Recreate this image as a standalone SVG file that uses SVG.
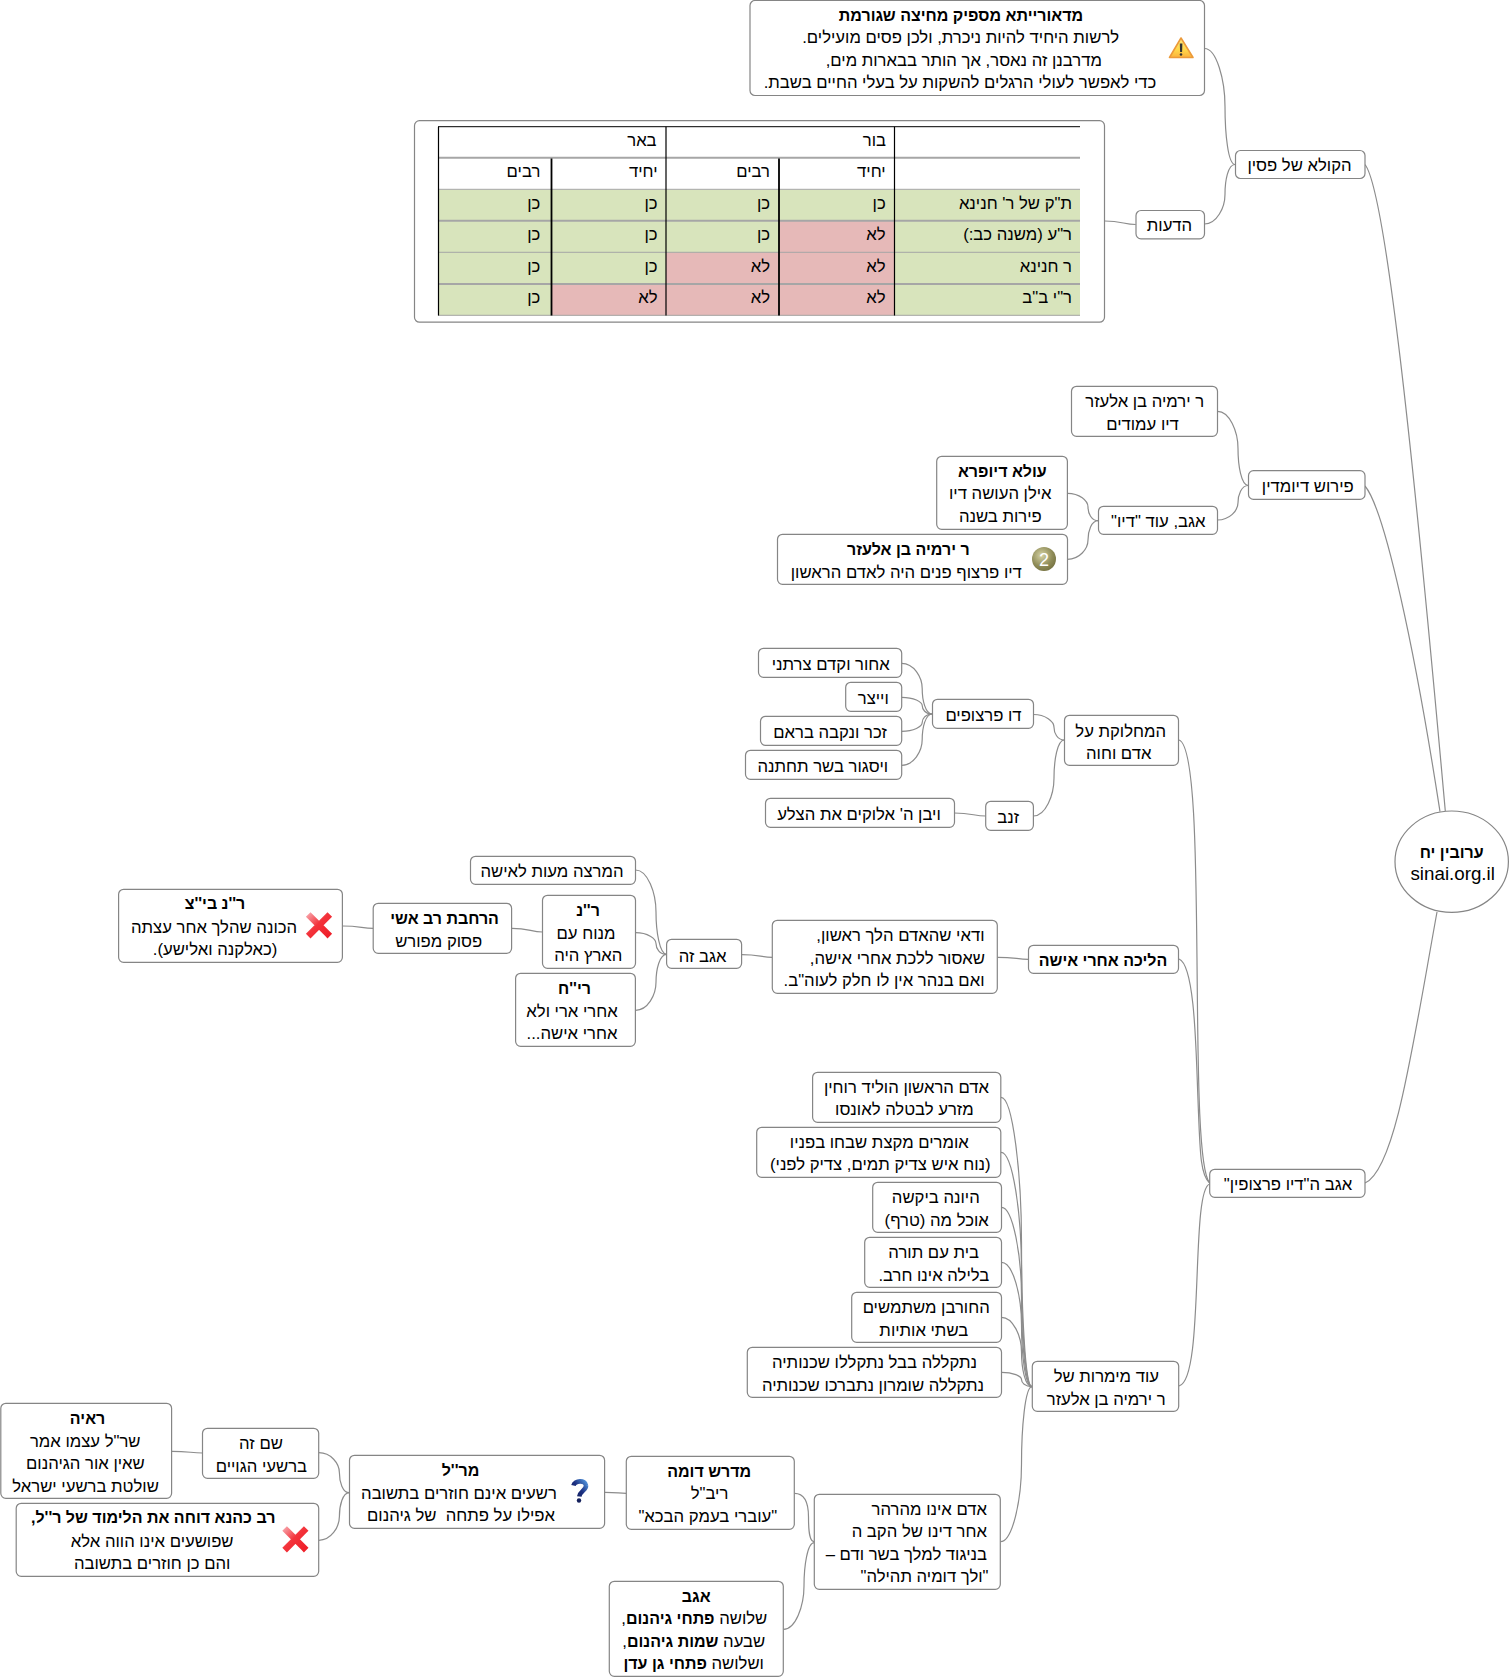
<svg xmlns="http://www.w3.org/2000/svg" width="1509" height="1677" viewBox="0 0 1509 1677">
<style>
text{font-family:"Liberation Sans",Arial,sans-serif;font-size:16.7px;fill:#000;direction:rtl;text-anchor:middle}
.b,tspan.b{font-weight:bold;font-size:16px}
.r{text-anchor:start}
.n{fill:#fff;stroke:#858585;stroke-width:1.2}
#connectors path{fill:none;stroke:#8c8c8c;stroke-width:1.2}
.g{fill:#D8E4BC}.p{fill:#E6B9B8}
.hl{stroke:#a6a6a6;fill:none}
.vl{stroke:#000;fill:none}
.x{stroke:url(#xg);stroke-width:6.5;stroke-linecap:square;fill:none}
</style>
<defs>
<linearGradient id="wg" x1="0" y1="0" x2="0" y2="1"><stop offset="0" stop-color="#ffe680"/><stop offset="0.6" stop-color="#ffd84a"/><stop offset="1" stop-color="#fbb13c"/></linearGradient>
<linearGradient id="xg" gradientUnits="userSpaceOnUse" x1="-12" y1="-12" x2="12" y2="12"><stop offset="0" stop-color="#f8a8ae"/><stop offset="0.45" stop-color="#f3333b"/><stop offset="1" stop-color="#ee1c26"/></linearGradient>
<radialGradient id="mg" cx="0.4" cy="0.35" r="0.75"><stop offset="0" stop-color="#d6d3a4"/><stop offset="0.6" stop-color="#8f8c58"/><stop offset="1" stop-color="#6f6c3c"/></radialGradient>
<linearGradient id="qg" x1="1" y1="0" x2="0" y2="1"><stop offset="0" stop-color="#4f8fd8"/><stop offset="0.5" stop-color="#1b2f80"/><stop offset="1" stop-color="#14205c"/></linearGradient>
<g id="xicon"><path class="x" d="M-8.5 -8.5L8.5 8.5M8.5 -8.5L-8.5 8.5"/></g>
</defs>
<rect width="1509" height="1677" fill="#fff"/>
<g id="connectors">
<path d="M1204.5 48.5C1216.5 48.5 1225 79.8 1225 106.5S1228 164.5 1235 164.5"/>
<path d="M1204.5 224C1216.5 224 1225 208 1225 194.2S1228 164.5 1235 164.5"/>
<path d="M1104.8 221C1122 221 1124 224.5 1135.7 224.5"/>
<path d="M1365 164.5C1385 190 1412 440 1445.3 811"/>
<path d="M1217.5 411.3C1229.5 411.3 1238 431.3 1238 448.4S1241.3 485.5 1248.3 485.5"/>
<path d="M1217.5 520C1229.5 520 1238 510.7 1238 502.8S1241.3 485.5 1248.3 485.5"/>
<path d="M1067.5 493.3C1079.5 493.3 1088 500.7 1088 507S1091.3 520.7 1098.3 520.7"/>
<path d="M1067.5 559.3C1079.5 559.3 1088 548.9 1088 540S1091.3 520.7 1098.3 520.7"/>
<path d="M1365 486C1385 510 1415 650 1440 811.7"/>
<path d="M1365 1183C1395 1170 1412 1050 1437 912"/>
<path d="M1179 740C1195 745 1196 860 1197 960S1198 1170 1209.7 1183"/>
<path d="M1179 959C1195 965 1196 1050 1198 1100S1200 1175 1209.7 1183"/>
<path d="M1179 1386C1205 1380 1190 1190 1209.7 1184"/>
<path d="M1033.5 714.5C1045.5 714.5 1054 721.4 1054 727.2S1057.3 740 1064.3 740"/>
<path d="M1033.5 816C1045.5 816 1054 795.5 1054 778S1057.3 740 1064.3 740"/>
<path d="M901.7 663.3C913.7 663.3 922.2 677 922.2 688.6S925.3 714 932.3 714"/>
<path d="M901.7 697.3C913.7 697.3 922.2 701.8 922.2 705.6S925.3 714 932.3 714"/>
<path d="M901.7 731.3C913.7 731.3 922.2 726.6 922.2 722.6S925.3 714 932.3 714"/>
<path d="M901.7 765.3C913.7 765.3 922.2 751.4 922.2 739.6S925.3 714 932.3 714"/>
<path d="M954.3 813C972 813 974 816 985.7 816"/>
<path d="M997.5 957.3C1015 957.3 1017 959.3 1028.5 959.3"/>
<path d="M741.8 954.7C759 954.7 761 957.3 772.3 957.3"/>
<path d="M635.6 870C647.6 870 656 892.8 656 912.1S659.6 954.3 666.6 954.3"/>
<path d="M635.6 932.7C647.6 932.7 656 938.5 656 943.5S659.6 954.3 666.6 954.3"/>
<path d="M635.6 1010.3C647.6 1010.3 656 995.2 656 982.3S659.6 954.3 666.6 954.3"/>
<path d="M511.8 928.3C529 928.3 531 932 542.5 932"/>
<path d="M342.6 926C360 926 362 928.3 373.2 928.3"/>
<path d="M1001 1097.3C1013 1097.3 1021.5 1175.4 1021.5 1242S1025 1386.7 1032 1386.7"/>
<path d="M1001 1152.3C1013 1152.3 1021.5 1215.6 1021.5 1269.5S1025 1386.7 1032 1386.7"/>
<path d="M1001.5 1207.3C1013 1207.3 1021.5 1255.7 1021.5 1297S1025 1386.7 1032 1386.7"/>
<path d="M1001.5 1262.3C1013 1262.3 1021.5 1295.9 1021.5 1324.5S1025 1386.7 1032 1386.7"/>
<path d="M1001.5 1317.3C1013 1317.3 1021.5 1336 1021.5 1352S1025 1386.7 1032 1386.7"/>
<path d="M1001.5 1372.3C1013 1372.3 1021.5 1376.2 1021.5 1379.5S1025 1386.7 1032 1386.7"/>
<path d="M1000.5 1541.7C1012.5 1541.7 1021.5 1499.8 1021.5 1464.2S1025 1386.7 1032 1386.7"/>
<path d="M794.5 1493.3C803 1493.3 808.5 1500 808.5 1517S810 1541.7 814.3 1541.7"/>
<path d="M783.5 1629.3C795.5 1629.3 804 1606 804 1586S807.3 1542.7 814.3 1542.7"/>
<path d="M604.8 1492.3C618 1492.3 618 1493.3 626.3 1493.3"/>
<path d="M318.9 1452.7C330.9 1452.7 339.4 1463.5 339.4 1472.7S342.5 1492.7 349.5 1492.7"/>
<path d="M318.9 1540.3C330.9 1540.3 339.4 1527.4 339.4 1516.5S342.5 1492.7 349.5 1492.7"/>
<path d="M171.8 1451.3C189 1451.3 191 1453 202.5 1453"/>
</g>
<g id="root"><ellipse class="n" cx="1451.7" cy="861.7" rx="56.7" ry="50.7"/>
<text class="b" x="1451.7" y="857.7">ערובין יח</text>
<text x="1452.7" y="880" style="font-size:18.75px;direction:ltr">sinai.org.il</text></g>
<g id="hakula"><rect class="n" x="1235.5" y="150.5" width="129.5" height="28" rx="5"/><text x="1299.5" y="171">הקולא של פסין</text></g>
<g id="warning"><rect class="n" x="750" y="0.5" width="454.5" height="95" rx="5"/>
<text class="b" x="961" y="20.6">מדאורייתא מספיק מחיצה שגורמת</text>
<text x="960.7" y="43.2">לרשות היחיד להיות ניכרת, ולכן פסים מועילים.</text>
<text x="963.8" y="65.8">מדרבנן זה נאסר, אך הותר בבארות מים,</text>
<text x="960" y="88.4">כדי לאפשר לעולי הרגלים להשקות על בעלי החיים בשבת.</text>
<path d="M1181 38L1193 57.5H1169.5Z" fill="url(#wg)" stroke="#ec9a3a" stroke-width="1.6" stroke-linejoin="round"/>
<path d="M1179.8 43.5h2.6l-.3 8.5h-2Z" fill="#333"/><circle cx="1181" cy="54.5" r="1.3" fill="#333"/></g>
<g id="hadeot"><rect class="n" x="1136" y="210.5" width="68.5" height="28.3" rx="5"/><text x="1169.5" y="231">הדעות</text></g>
<g id="table"><rect class="n" x="414.5" y="120.7" width="690" height="201.5" rx="5"/>
<rect class="g" x="438" y="189.5" width="642" height="126"/>
<rect class="p" x="779" y="221" width="115" height="94.5"/>
<rect class="p" x="666" y="252.5" width="113" height="63"/>
<rect class="p" x="551.5" y="284" width="114.5" height="31.5"/>
<path class="vl" d="M438 126.7H1080" stroke-width="1"/>
<path class="hl" d="M438 157.7H1080M438 220.7H1080M438 284H1080" stroke-width="2"/>
<path class="hl" d="M438 189.3H1080M438 252.3H1080M438 315.3H1080" stroke-width="1"/>
<path class="vl" d="M438.5 126.7V315.5M666 126.7V315.5M894.5 126.7V315.5" stroke-width="1.2"/>
<path class="vl" d="M551.5 158.5V315.5M779 158.5V315.5" stroke-width="1.8"/>
<text class="r" x="886" y="146">בור</text><text class="r" x="656.6" y="146">באר</text>
<text class="r" x="885.7" y="177">יחיד</text><text class="r" x="770" y="177">רבים</text><text class="r" x="657.6" y="177">יחיד</text><text class="r" x="540.3" y="177">רבים</text>
<text class="r" x="1072" y="208.7">ת"ק של ר' חנינא</text><text class="r" x="885.7" y="208.7">כן</text><text class="r" x="770" y="208.7">כן</text><text class="r" x="657.6" y="208.7">כן</text><text class="r" x="540.3" y="208.7">כן</text>
<text class="r" x="1072" y="239.5">ר"ע (משנה כב:)</text><text class="r" x="885.7" y="239.5">לא</text><text class="r" x="770" y="239.5">כן</text><text class="r" x="657.6" y="239.5">כן</text><text class="r" x="540.3" y="239.5">כן</text>
<text class="r" x="1072" y="271.7">ר חנינא</text><text class="r" x="885.7" y="271.7">לא</text><text class="r" x="770" y="271.7">לא</text><text class="r" x="657.6" y="271.7">כן</text><text class="r" x="540.3" y="271.7">כן</text>
<text class="r" x="1072" y="302.7">ר"י ב"ב</text><text class="r" x="885.7" y="302.7">לא</text><text class="r" x="770" y="302.7">לא</text><text class="r" x="657.6" y="302.7">לא</text><text class="r" x="540.3" y="302.7">כן</text></g>
<g id="perush"><rect class="n" x="1248.5" y="470.7" width="116.5" height="28.7" rx="5"/><text x="1307.8" y="491.8">פירוש דיומדין</text></g>
<g id="yirmeya"><rect class="n" x="1071.5" y="386.3" width="146" height="50" rx="5"/><text x="1144.7" y="407.3">ר ירמיה בן אלעזר</text><text x="1142.5" y="430">דיו עמודים</text></g>
<g id="agavod"><rect class="n" x="1098.5" y="506.3" width="119" height="28" rx="5"/><text x="1158.3" y="526.7">אגב, עוד "דיו"</text></g>
<g id="ula"><rect class="n" x="936.7" y="456.3" width="130.7" height="73" rx="5"/><text class="b" x="1002.3" y="476.7">עולא דיופרא</text><text x="1000.3" y="499.3">אילן העושה דיו</text><text x="1000.3" y="521.7">פירות בשנה</text></g>
<g id="yirmeya2"><rect class="n" x="777.5" y="534.3" width="290" height="50" rx="5"/><text class="b" x="908.3" y="555.3">ר ירמיה בן אלעזר</text><text x="906.3" y="577.7">דיו פרצוף פנים היה לאדם הראשון</text>
<circle cx="1044" cy="559" r="12" fill="url(#mg)"/><text x="1044" y="565.5" style="font-size:18px;fill:#fff;direction:ltr">2</text></g>
<g id="machloket"><rect class="n" x="1064.5" y="715.3" width="114" height="50" rx="5"/><text x="1120.7" y="736.7">המחלוקת על</text><text x="1118.7" y="759.3">אדם וחוה</text></g>
<g id="du"><rect class="n" x="932.5" y="699.3" width="101" height="29" rx="5"/><text x="983.5" y="720.7">דו פרצופים</text></g>
<g id="achor"><rect class="n" x="758.5" y="648.3" width="143.2" height="29" rx="5"/><text x="830.8" y="670">אחור וקדם צרתני</text></g>
<g id="vayitzer"><rect class="n" x="845.7" y="682.3" width="56" height="29" rx="5"/><text x="873.3" y="704">וייצר</text></g>
<g id="zachar"><rect class="n" x="760.5" y="716.3" width="141.2" height="29" rx="5"/><text x="830" y="738">זכר ונקבה בראם</text></g>
<g id="vayisgor"><rect class="n" x="745.5" y="750.3" width="156.2" height="29" rx="5"/><text x="822.8" y="772">ויסגור בשר תחתנה</text></g>
<g id="zanav"><rect class="n" x="985.7" y="801.3" width="47.7" height="29" rx="5"/><text x="1008.3" y="822.7">זנב</text></g>
<g id="vayiven"><rect class="n" x="765.5" y="798.3" width="189" height="29" rx="5"/><text x="859" y="820">ויבן ה' אלוקים את הצלע</text></g>
<g id="hadyu"><rect class="n" x="1209.7" y="1169.3" width="155.3" height="28" rx="5"/><text x="1288" y="1190">אגב ה"דיו פרצופין"</text></g>
<g id="halicha"><rect class="n" x="1028.5" y="945.3" width="150" height="28" rx="5"/><text class="b" x="1103" y="966">הליכה אחרי אישה</text></g>
<g id="vaday"><rect class="n" x="772.3" y="920.3" width="225" height="73" rx="5"/><text class="r" x="984.5" y="941">ודאי שהאדם הלך ראשון,</text><text class="r" x="985" y="963.7">שאסור ללכת אחרי אישה,</text><text class="r" x="984.5" y="986">ואם בנהר אין לו חלק לעוה"ב.</text></g>
<g id="agavze"><rect class="n" x="666.6" y="939.3" width="75" height="29" rx="5"/><text x="702.7" y="961.5">אגב זה</text></g>
<g id="hamartze"><rect class="n" x="470.5" y="856.3" width="165" height="28" rx="5"/><text x="552" y="876.7">המרצה מעות לאישה</text></g>
<g id="ran"><rect class="n" x="542.5" y="895.3" width="93" height="73" rx="5"/><text class="b" x="588" y="916">ר''נ</text><text x="586" y="938.7">מנוח עם</text><text x="588.3" y="960.7">הארץ היה</text></g>
<g id="rich"><rect class="n" x="515.6" y="973.3" width="119.8" height="73" rx="5"/><text class="b" x="574.5" y="994">רי''ח</text><text x="572" y="1016.7">אחרי ארי ולא</text><text x="572" y="1039">אחרי אישה...</text></g>
<g id="harchava"><rect class="n" x="373.2" y="903.3" width="138.4" height="50" rx="5"/><text class="b" x="444.6" y="924">הרחבת רב אשי</text><text x="438.7" y="946.7">פסוק מפורש</text></g>
<g id="bitzaz"><rect class="n" x="118.6" y="889.3" width="223.8" height="73" rx="5"/><text class="b" x="215" y="909.3">ר''נ בי''צ</text><text x="214" y="932.7">הכונה שהלך אחר עצתה</text><text x="215" y="955">(כאלקנה ואלישע).</text>
<use href="#xicon" x="319" y="925.3"/></g>
<g id="adamh"><rect class="n" x="812.6" y="1072.3" width="188.2" height="50" rx="5"/><text x="906.5" y="1092.7">אדם הראשון הוליד רוחין</text><text x="904.4" y="1115.3">מזרע לבטלה לאונסו</text></g>
<g id="omrim"><rect class="n" x="756.7" y="1127.3" width="244.1" height="50" rx="5"/><text x="879.3" y="1147.7">אומרים מקצת שבחו בפניו</text><text x="880.3" y="1170.3">(נוח איש צדיק תמים, צדיק לפני)</text></g>
<g id="hayona"><rect class="n" x="872.7" y="1182.3" width="128.8" height="50" rx="5"/><text x="935.8" y="1203.3">היונה ביקשה</text><text x="936.7" y="1226">אוכל מה (טרף)</text></g>
<g id="beit"><rect class="n" x="864.7" y="1237.3" width="136.8" height="50" rx="5"/><text x="933.7" y="1258.3">בית עם תורה</text><text x="933.8" y="1281">בלילה אינו חרב.</text></g>
<g id="hachurban"><rect class="n" x="851.7" y="1292.3" width="149.8" height="50" rx="5"/><text x="926.2" y="1313.3">החורבן משתמשים</text><text x="923.8" y="1336">בשתי אותיות</text></g>
<g id="nitkalela"><rect class="n" x="747.3" y="1347.3" width="254.2" height="50" rx="5"/><text x="874.5" y="1368.3">נתקללה בבל נתקללו שכנותיה</text><text x="873" y="1391">נתקללה שומרון נתברכו שכנותיה</text></g>
<g id="odmeimrot"><rect class="n" x="1032.3" y="1361.3" width="146.4" height="50" rx="5"/><text x="1106.3" y="1382">עוד מימרות של</text><text x="1106.2" y="1405">ר ירמיה בן אלעזר</text></g>
<g id="adameino"><rect class="n" x="814.3" y="1494.3" width="186" height="95" rx="5"/><text class="r" x="987" y="1515">אדם אינו מהרהר</text><text class="r" x="987" y="1537.3">אחר דינו של הקב ה</text><text class="r" x="987" y="1560">בניגוד למלך בשר ודם –</text><text class="r" x="988.5" y="1582.3">"ולך דומיה תהילה"</text></g>
<g id="midrash"><rect class="n" x="626.3" y="1456.3" width="168" height="73" rx="5"/><text class="b" x="709.2" y="1476.7">מדרש דומה</text><text x="709.5" y="1499.3">ריב"ל</text><text x="707.8" y="1521.7">"עוברי בעמק הבכא"</text></g>
<g id="agav"><rect class="n" x="609.3" y="1581.3" width="174" height="95" rx="5"/><text class="b" x="696.2" y="1601.7">אגב</text><text x="694.3" y="1624.3">שלושה <tspan class="b">פתחי גיהנום</tspan>,</text><text x="693.8" y="1646.7">שבעה <tspan class="b">שמות גיהנום</tspan>,</text><text x="693.7" y="1669">ושלושה <tspan class="b">פתחי גן עדן</tspan></text></g>
<g id="maril"><rect class="n" x="349.5" y="1455.3" width="255.1" height="73" rx="5"/><text class="b" x="460.5" y="1475.7">מר''ל</text><text x="459" y="1499">רשעים אינם חוזרים בתשובה</text><text x="461" y="1520.7" style="white-space:pre">אפילו על פתחה  של גיהנום</text>
<path d="M573.5 1485.5C574.5 1480.5 585.5 1479.5 586 1485.5C586.5 1490 580 1491 579.3 1496.5" fill="none" stroke="url(#qg)" stroke-width="4.6"/><circle cx="579" cy="1500.5" r="2.2" fill="#14205c"/></g>
<g id="shamze"><rect class="n" x="202.5" y="1428.3" width="116.2" height="50" rx="5"/><text x="261" y="1449">שם זה</text><text x="261.4" y="1471.7">ברשעי הגויים</text></g>
<g id="raaya"><rect class="n" x="0.8" y="1403.3" width="170.8" height="95" rx="5"/><text class="b" x="87.6" y="1424.3">ראיה</text><text x="85.2" y="1446.7">שר"ל עצמו אמר</text><text x="85.4" y="1469">שאין אור הגיהנום</text><text x="85.6" y="1491.7">שולטת ברשעי ישראל</text></g>
<g id="kahana"><rect class="n" x="16.2" y="1503.3" width="302.5" height="73" rx="5"/><text class="b" x="153.2" y="1523.3">רב כהנא דוחה את הלימוד של ר''ל,</text><text x="152.2" y="1546.7">שפושעים אינו הווה אלא</text><text x="152.2" y="1569">והם כן חוזרים בתשובה</text>
<use href="#xicon" x="295.4" y="1539.3"/></g>
</svg>
